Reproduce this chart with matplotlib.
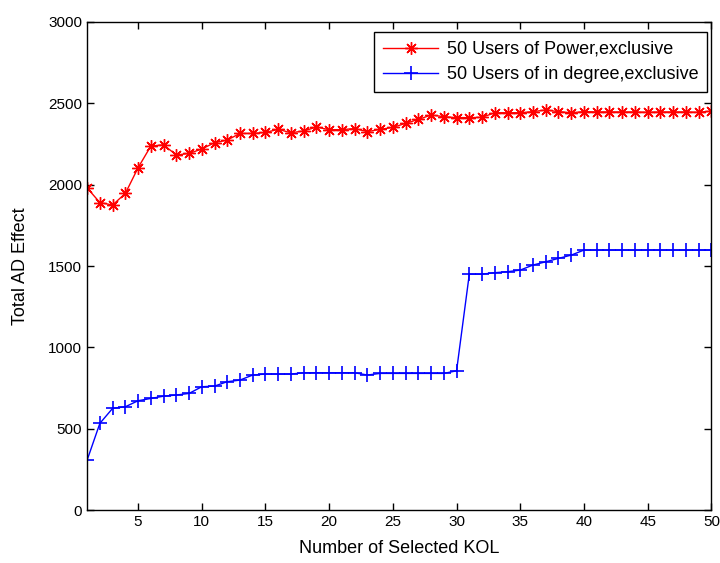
import matplotlib
matplotlib.use("Agg")
import matplotlib.pyplot as plt
import numpy as np

plt.rcParams['font.family'] = ['Liberation Sans', 'DejaVu Sans']

kol = list(range(1, 51))
power_excl = [1980, 1890, 1875, 1946, 2104, 2237, 2245, 2182, 2192, 2219,
              2258, 2274, 2315, 2315, 2321, 2340, 2319, 2330, 2354, 2338,
              2338, 2345, 2326, 2340, 2352, 2377, 2401, 2428, 2418, 2412,
              2412, 2414, 2442, 2442, 2442, 2449, 2459, 2449, 2442, 2449,
              2447, 2447, 2447, 2447, 2445, 2447, 2447, 2447, 2445, 2452]
indegree_excl = [307, 533, 625, 635, 672, 686, 700, 707, 717, 758,
                 762, 789, 799, 830, 836, 836, 836, 844, 844, 844,
                 844, 844, 830, 840, 840, 840, 840, 840, 840, 856,
                 1450, 1450, 1459, 1465, 1475, 1506, 1526, 1547, 1567, 1598,
                 1598, 1598, 1598, 1598, 1598, 1598, 1598, 1598, 1598, 1598]

labels = ['50 Users of Power,exclusive', '50 Users of in degree,exclusive']
xticks = [5, 10, 15, 20, 25, 30, 35, 40, 45, 50]
yticks = [0, 500, 1000, 1500, 2000, 2500, 3000]

fig = plt.figure(figsize=(7.2, 5.63), dpi=100)
ax = fig.add_axes([0.121, 0.094, 0.867, 0.867])

ax.plot(kol, power_excl, color='#ff0000', marker=(8, 2, 0), markersize=9,
        linewidth=1.0, markeredgewidth=1.0, label=labels[0])
ax.plot(kol, indegree_excl, color='#0000ff', marker='+', markersize=10,
        linewidth=1.0, markeredgewidth=1.2, label=labels[1])

ax.set_xlim(1, 50)
ax.set_ylim(0, 3000)
ax.set_xticks(xticks)
ax.set_yticks(yticks)
ax.tick_params(direction='in', top=True, right=True, labelsize=11, length=5, width=1)
for s in ax.spines.values():
    s.set_linewidth(1.0)

ax.set_xlabel('Number of Selected KOL', fontsize=13, labelpad=8)
ax.set_ylabel('Total AD Effect', fontsize=13, labelpad=14)

leg = ax.legend(loc='upper right', fontsize=13, fancybox=False, framealpha=1,
                edgecolor='black', borderpad=0.5, handlelength=3.0,
                handletextpad=0.5, labelspacing=0.45,
                bbox_to_anchor=(1.008, 0.998))
leg.get_frame().set_linewidth(1.0)

fig.savefig('out.png', dpi=100)
